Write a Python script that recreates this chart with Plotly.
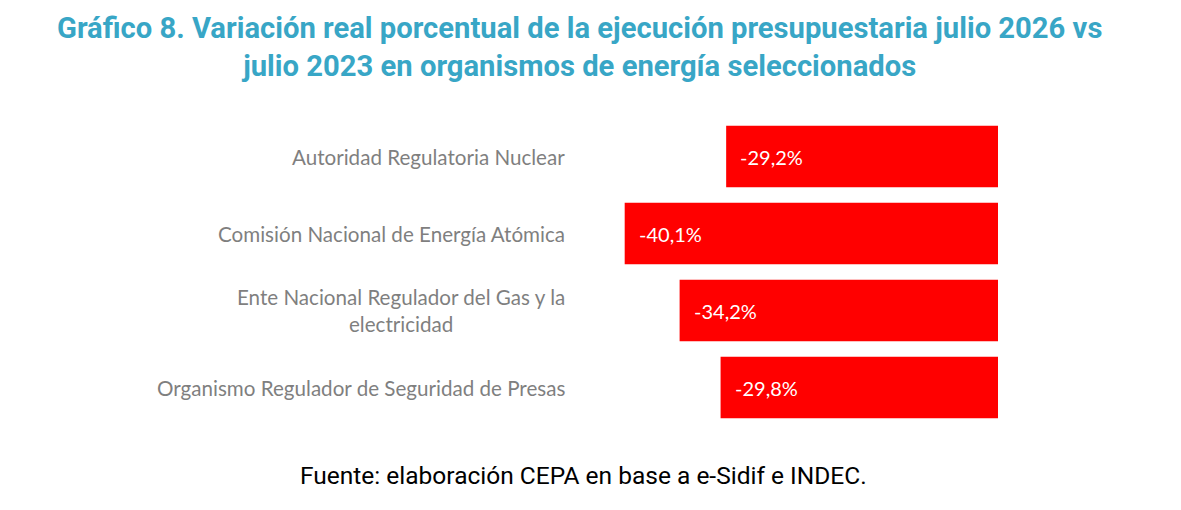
import plotly.graph_objects as go

categories = [
    "Autoridad Regulatoria Nuclear",
    "Comisión Nacional de Energía Atómica",
    "Ente Nacional Regulador del Gas y la<br>electricidad",
    "Organismo Regulador de Seguridad de Presas",
]
values = [-29.2, -40.1, -34.2, -29.8]
labels = ["-29,2%", "-40,1%", "-34,2%", "-29,8%"]

title = ("<b>Gráfico 8. Variación real porcentual de la ejecución presupuestaria julio 2026 vs"
         "<br>julio 2023 en organismos de energía seleccionados</b>")
source = "Fuente: elaboración CEPA en base a e-Sidif e INDEC."

# page body adds an 8px offset, so positions below are compensated for it
W, H = 1181, 510
L, R, T, B = 599, 191, 109.5, 91.5
pw, ph = W - L - R, H - T - B


def px_x(x):
    return (x - 8 - L) / pw


def px_y(y):
    return (H - B - (y - 8)) / ph


fig = go.Figure()
fig.add_trace(go.Bar(
    x=values, y=categories, orientation="h",
    marker=dict(color="#FF0000", line=dict(width=0)),
    width=0.8, hoverinfo="skip",
))

# value labels inside the bars, near their left end
for c, v, t in zip(categories, values, labels):
    fig.add_annotation(x=v, y=c, text=t, xanchor="left", xshift=12,
                       showarrow=False,
                       font=dict(family="Lato", size=20, color="white"))

# category labels, centred multi-line like the original
for c in categories:
    fig.add_annotation(x=0, xref="paper", y=c, text=c, xanchor="right",
                       xshift=-40, align="center", showarrow=False,
                       font=dict(family="Lato", size=20.6, color="#7F7F7F"))

fig.add_annotation(
    x=px_x(583), xref="paper", y=px_y(476), yref="paper",
    text=source, showarrow=False, xanchor="center", yanchor="middle",
    font=dict(family="Roboto", size=24.5, color="black"),
)

fig.add_annotation(
    x=px_x(579), xref="paper", y=px_y(46), yref="paper",
    text=title, showarrow=False, xanchor="center", yanchor="middle",
    align="center",
    font=dict(family="Roboto", size=29.2, color="#38A6C6"),
)

fig.update_layout(
    width=W, height=H,
    margin=dict(l=L, r=R, t=T, b=B),
    paper_bgcolor="white", plot_bgcolor="white",
    showlegend=False,
    xaxis=dict(range=[-42, 0], visible=False, fixedrange=True),
    yaxis=dict(autorange="reversed", showticklabels=False, showgrid=False,
               zeroline=False, showline=False, ticks=""),
)

fig.write_html("out.html")
